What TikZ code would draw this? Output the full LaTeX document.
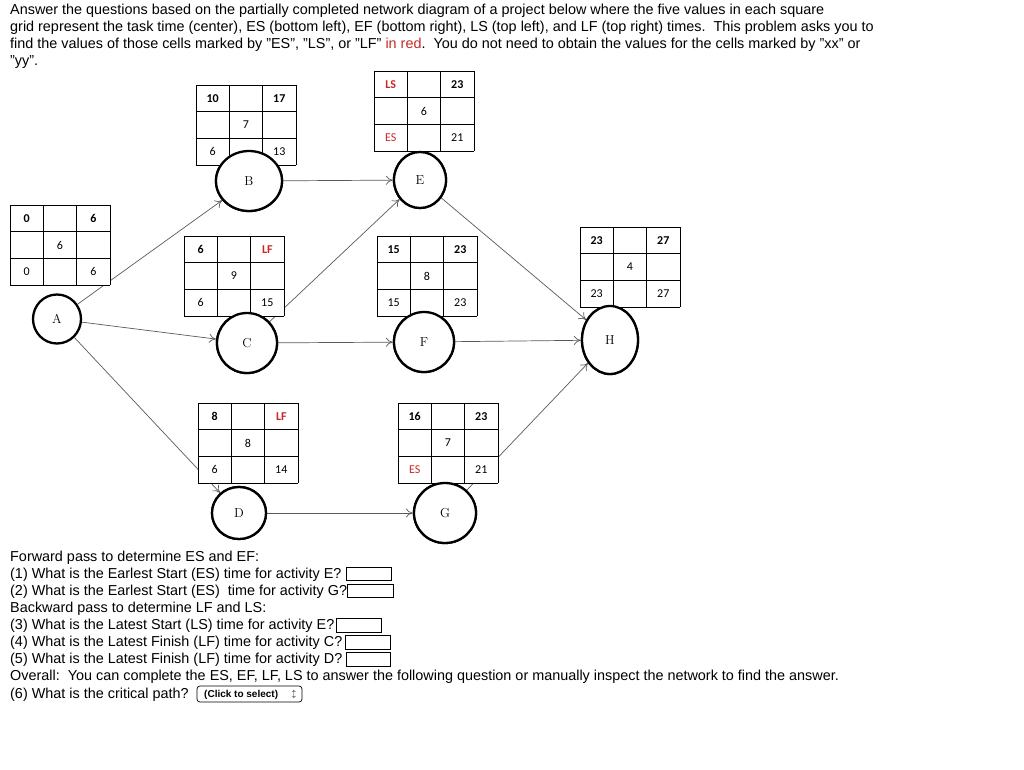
\documentclass[tikz,border=0pt]{standalone}
\usepackage{fontspec}
\setmainfont{Liberation Sans}
\newfontfamily\gridfont{Carlito}
\newfontfamily\lmfont{Latin Modern Roman}
\usetikzlibrary{arrows.meta,shapes.geometric}
\definecolor{myred}{RGB}{200,40,40}
\definecolor{edgegray}{RGB}{90,90,90}
\newcommand{\dq}{\symbol{34}}
\tikzset{
  txt/.style={anchor=base west,inner sep=0pt,font=\fontsize{14.4}{17}\selectfont},
  act/.style={draw,line width=2.3pt,ellipse,fill=white,font=\lmfont\fontsize{13}{15}\selectfont},
  arr/.style={draw=edgegray,line width=0.7pt,-{To[length=7pt,width=9pt]}},
  cell/.style={font=\gridfont\fontsize{12}{14}\selectfont,inner sep=0pt},
}
% x y tl tr c bl br
\newcommand{\cpmgrid}[7]{%
  \begin{scope}[shift={(#1,#2)}]
  \fill[white] (0,0) rectangle (100,80);
  \foreach \k in {0,33.33,66.67,100} {\draw[line width=0.7pt] (\k,0) -- (\k,80);}
  \foreach \k in {0,26.67,53.33,80} {\draw[line width=0.7pt] (0,\k) -- (100,\k);}
  \node[cell] at (16.7,13.3) {\bfseries #3};
  \node[cell] at (83.3,13.3) {\bfseries #4};
  \node[cell] at (50,40) {#5};
  \node[cell] at (16.7,66.7) {#6};
  \node[cell] at (83.3,66.7) {#7};
  \end{scope}}
\begin{document}
\begin{tikzpicture}[x=1pt,y=-1pt]
\useasboundingbox (0,0) rectangle (1024,770);
\node[txt] at (10,15) {Answer the questions based on the partially completed network diagram of a project below where the five values in each square};
\node[txt] at (10,32) {grid represent the task time (center), ES (bottom left), EF (bottom right), LS (top left), and LF (top right) times.\ \ This problem asks you to};
\node[txt] at (10,49) {find the values of those cells marked by \dq ES\dq, \dq LS\dq, or \dq LF\dq\ \textcolor{myred}{in red}.\ \ You do not need to obtain the values for the cells marked by \dq xx\dq\ or};
\node[txt] at (10,66) {\dq yy\dq.};
% nodes
\node[act,minimum width=48pt,minimum height=49pt] (A) at (57,319) {A};
\node[act,minimum width=66pt,minimum height=60pt] (B) at (249,181) {B};
\node[act,minimum width=52pt,minimum height=56pt] (E) at (420,180) {E};
\node[act,minimum width=60pt,minimum height=60pt] (C) at (247,343) {C};
\node[act,minimum width=60pt,minimum height=60pt] (F) at (424,342) {F};
\node[act,minimum width=56pt,minimum height=68pt] (H) at (610,340) {H};
\node[act,minimum width=54pt,minimum height=52pt] (D) at (239,513) {D};
\node[act,minimum width=62pt,minimum height=60pt] (G) at (445,513) {G};
% edges
\draw[arr] (A) -- (B);
\draw[arr] (A) -- (C);
\draw[arr] (A) -- (D);
\draw[arr] (B) -- (E);
\draw[arr] (C) -- (E);
\draw[arr] (C) -- (F);
\draw[arr] (E) -- (H);
\draw[arr] (F) -- (H);
\draw[arr] (D) -- (G);
\draw[arr] (G) -- (H);
% grids
\cpmgrid{10}{205}{0}{6}{6}{0}{6}
\cpmgrid{196}{85}{10}{17}{7}{6}{13}
\cpmgrid{374}{71}{\textcolor{myred}{LS}}{23}{6}{\textcolor{myred}{ES}}{21}
\cpmgrid{184}{236}{6}{\textcolor{myred}{LF}}{9}{6}{15}
\cpmgrid{377}{236}{15}{23}{8}{15}{23}
\cpmgrid{580}{227}{23}{27}{4}{23}{27}
\cpmgrid{198}{403}{8}{\textcolor{myred}{LF}}{8}{6}{14}
\cpmgrid{398}{403}{16}{23}{7}{\textcolor{myred}{ES}}{21}
% circles drawn over grids
\node[act,minimum width=66pt,minimum height=60pt] (B2) at (249,181) {B};
\node[act,minimum width=52pt,minimum height=56pt] (E2) at (420,180) {E};
\node[act,minimum width=60pt,minimum height=60pt] (C2) at (247,343) {C};
\node[act,minimum width=60pt,minimum height=60pt] (F2) at (424,342) {F};
\node[act,minimum width=56pt,minimum height=68pt] (H2) at (610,340) {H};
\node[act,minimum width=54pt,minimum height=52pt] (D2) at (239,513) {D};
\node[act,minimum width=62pt,minimum height=60pt] (G2) at (445,513) {G};
% questions
\node[txt] at (10,561) {Forward pass to determine ES and EF:};
\node[txt] at (10,578) {(1) What is the Earlest Start (ES) time for activity E?};
\node[txt] at (10,595) {(2) What is the Earlest Start (ES)\ \ time for activity G?};
\node[txt] at (10,612) {Backward pass to determine LF and LS:};
\node[txt] at (10,629) {(3) What is the Latest Start (LS) time for activity E?};
\node[txt] at (10,646) {(4) What is the Latest Finish (LF) time for activity C?};
\node[txt] at (10,663) {(5) What is the Latest Finish (LF) time for activity D?};
\node[txt] at (10,680) {Overall:\ \ You can complete the ES, EF, LF, LS to answer the following question or manually inspect the network to find the answer.};
\node[txt] at (10,698) {(6) What is the critical path?};
\draw[line width=0.7pt] (346,567) rectangle (391,580);
\draw[line width=0.7pt] (347,584) rectangle (393,597);
\draw[line width=0.7pt] (336,618) rectangle (381,632);
\draw[line width=0.7pt] (345,635) rectangle (390,649);
\draw[line width=0.7pt] (346,652) rectangle (390,666);
\draw[line width=0.7pt,rounded corners=3pt] (197,686) rectangle (302,702);
\node[anchor=west,inner sep=0pt,font=\bfseries\fontsize{10}{11}\selectfont] at (204,694.5) {(Click to select)};
\node[anchor=center,inner sep=0pt,font=\fontsize{8}{9}\selectfont] at (294,694) {$\updownarrow$};
\end{tikzpicture}
\end{document}
